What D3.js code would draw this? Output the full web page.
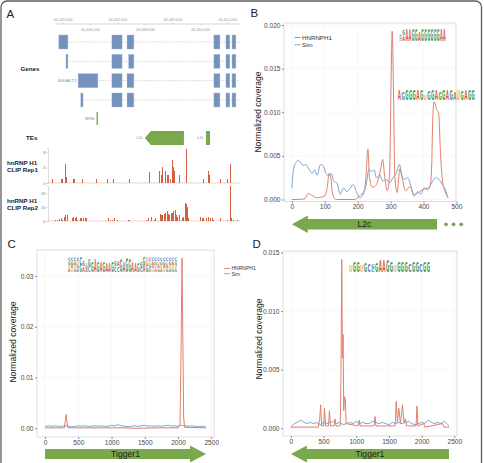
<!DOCTYPE html>
<html lang="en">
<head>
<meta charset="UTF-8">
<title>hnRNP H1 CLIP coverage on transposable elements</title>
<script src="https://d3js.org/d3.v7.min.js"></script>
<style>
  body { margin: 0; background: #fff; }
  svg { display: block; font-family: "Liberation Sans", Arial, sans-serif; }
</style>
</head>
<body>
<svg width="484" height="463"></svg>
<script>
// ---------------- data ----------------
// panel A: genome browser (positions in kb past 44,445,000)
const genomeTicks = [0, 1, 2, 3, 4, 5, 6];
const genomeLabels = ["44,445,000", "44,446,000", "44,447,000", "44,448,000", "44,449,000", "44,450,000", "44,451,000"];
const transcripts = [
  [[-0.15, 0.18], [1.78, 2.15], [2.33, 2.58], [5.49, 5.71], [5.93, 6.07], [6.15, 6.29]],
  [[0.11, 0.18], [1.78, 2.15], [2.39, 2.58], [5.49, 5.71], [5.93, 6.07], [6.15, 6.29]],
  [[0.55, 1.27], [1.78, 2.15], [2.33, 2.58], [5.49, 5.71], [5.93, 6.07], [6.15, 6.29]],
  [[0.65, 0.73], [1.78, 2.15], [2.33, 2.58], [5.49, 5.71], [5.93, 6.07], [6.15, 6.29]]
];
const transcriptEnd = 6.44;
const geneName = "B4GALT2";
const teNames = ["MIRb", "L2c", "L2c"];
const teStart = [1.22, 2.98, 5.20];
const teEnd = [1.27, 4.40, 5.35];
const teRow = [0, 1, 1];
const teStrand = ["+", "-", "-"];

const rep1Pos = [-0.39, -0.08, -0.02, 0.07, 0.11, 0.35, 0.40, 0.68, 1.19, 1.61, 1.83, 2.39, 3.13, 3.50, 3.56, 3.62, 3.70, 3.77, 3.83, 3.89, 3.96, 4.01, 4.04, 4.22, 4.46, 5.08, 5.28, 5.32, 5.71, 5.95, 6.07];
const rep1Val = [1, 1, 1, 4.9, 1.5, 1, 1, 1, 1, 1, 1, 1, 2.8, 3, 2, 4, 3, 2, 2, 1, 6, 4, 3, 2, 8.8, 1, 3, 2, 1, 1, 5];
const rep2Pos = [-0.29, -0.23, -0.13, -0.07, -0.02, 0.04, 0.08, 0.13, 0.16, 0.32, 0.35, 0.44, 0.47, 0.52, 0.62, 0.67, 0.74, 0.80, 0.84, 1.65, 1.71, 1.79, 1.85, 1.95, 2.35, 2.40, 3.02, 3.10, 3.19, 3.31, 3.36, 3.53, 3.58, 3.62, 3.67, 3.72, 3.77, 3.83, 3.87, 3.92, 3.96, 4.01, 4.06, 4.11, 4.16, 4.23, 4.32, 4.38, 4.44, 4.47, 4.52, 4.56, 4.98, 5.04, 5.10, 5.22, 5.28, 5.35, 5.42, 5.47, 5.71, 5.95, 6.07, 6.12, 6.19, 6.34];
const rep2Val = [1, 1, 1.5, 2, 1, 3, 4, 4.5, 2, 2, 3, 2, 3, 1, 2, 2, 2, 2, 2, 2, 1, 1, 2, 1, 1, 1, 1, 2, 3, 1, 2, 5, 4, 4, 5, 6, 7, 5, 4, 6, 6, 7, 8, 4, 3, 4, 2, 3, 13, 12, 10, 2, 3, 2, 2, 2, 3, 2, 2, 1, 2, 1, 25, 2, 1, 1];

// panel B: L2c coverage
const l2cHnrnp = [[0, 0], [20, 0], [40, 0.0001], [50, 0.0007], [60, 0.0005], [75, 0.0002], [100, 0.0004], [108, 0.0015], [113, 0.003], [118, 0.0026], [124, 0.0006], [135, 0], [190, 0], [205, 0.0004], [220, 0.001], [226, 0.003], [231, 0.0058], [236, 0.0025], [245, 0.0014], [255, 0.0016], [262, 0.0022], [270, 0.0035], [276, 0.0046], [282, 0.0027], [290, 0.001], [297, 0.003], [301, 0.012], [305, 0.0193], [309, 0.012], [313, 0.0025], [320, 0.0008], [328, 0.0035], [335, 0.0025], [345, 0.001], [360, 0.0015], [370, 0.0005], [385, 0.0008], [400, 0.0012], [412, 0.0013], [420, 0.0015], [425, 0.004], [428, 0.009], [432, 0.0112], [440, 0.0103], [446, 0.0099], [452, 0.005], [458, 0.002], [465, 0.001], [475, 0.0002]];
const l2cSim = [[0, 0.0013], [5, 0.0034], [12, 0.0042], [20, 0.0045], [27, 0.0042], [34, 0.0039], [42, 0.004], [52, 0.0035], [62, 0.003], [69, 0.0034], [77, 0.0028], [87, 0.004], [94, 0.0039], [104, 0.003], [112, 0.0027], [120, 0.003], [127, 0.0021], [137, 0.0019], [147, 0.0006], [157, 0.0013], [167, 0.0009], [177, 0.0013], [187, 0.0017], [197, 0.0008], [207, 0.0002], [217, 0.0006], [227, 0.0019], [234, 0.0035], [242, 0.0032], [250, 0.0034], [257, 0.0025], [267, 0.0028], [277, 0.0021], [287, 0.0023], [297, 0.0019], [307, 0.0025], [317, 0.003], [327, 0.004], [334, 0.0028], [342, 0.0023], [352, 0.0025], [362, 0.0015], [372, 0.0004], [382, 0.0009], [392, 0.0006], [402, 0.0013], [412, 0.0011], [422, 0.0017], [437, 0.0025], [447, 0.0023], [457, 0.0017], [467, 0.0011], [474, 0.0002]];

// panels C and D: Tigger1 coverage
const tiggerBins = d3.range(0, 2401, 50).concat([2420]);
const tigCHnrnp = [[0, 0.0001], [150, 0.0001], [290, 0.0001], [305, 0.0015], [318, 0.0027], [330, 0.0012], [345, 0.0001], [800, 0.0001], [1250, 0.0001], [1300, 0], [1700, 0.0001], [2000, 0.0001], [2030, 0.0008], [2045, 0.015], [2060, 0.0335], [2072, 0.018], [2085, 0.002], [2100, 0.0002], [2420, 0.0001]];
const tigCSim = [0.0004, 0.0005, 0.0004, 0.0005, 0.0004, 0.0004, 0.0005, 0.0004, 0.0003, 0.0004, 0.0005, 0.0004, 0.0005, 0.0004, 0.0004, 0.0005, 0.0004, 0.0005, 0.0004, 0.0004, 0.0006, 0.0005, 0.0007, 0.0005, 0.0004, 0.0003, 0.0004, 0.0005, 0.0004, 0.0005, 0.0006, 0.0004, 0.0005, 0.0004, 0.0005, 0.0004, 0.0005, 0.0006, 0.0004, 0.0005, 0.0004, 0.0006, 0.0005, 0.0004, 0.0005, 0.0004, 0.0003, 0.0004, 0.0003, 0.0003];
const tigDHnrnp = [[0, 0.0001], [420, 0.0001], [440, 0.0008], [455, 0.002], [470, 0.0002], [500, 0.0002], [515, 0.0017], [530, 0.0002], [575, 0.0002], [590, 0.0015], [605, 0.0002], [660, 0.0002], [677, 0.0008], [690, 0.0002], [755, 0.0002], [765, 0.004], [778, 0.0144], [788, 0.006], [798, 0.008], [808, 0.0015], [818, 0.0027], [833, 0.0025], [845, 0.0004], [1030, 0.0002], [1045, 0.0007], [1060, 0.0002], [1270, 0.0002], [1288, 0.001], [1300, 0.0002], [1595, 0.0002], [1611, 0.0023], [1630, 0.0005], [1651, 0.0017], [1675, 0.0004], [1707, 0.002], [1730, 0.0005], [1752, 0.0008], [1770, 0.0002], [1915, 0.0002], [1929, 0.0019], [1945, 0.0002], [2030, 0.0004], [2050, 0.0001], [2323, 0.0004], [2340, 0.0001], [2420, 0.0001]];
const tigDSim = [0.0001, 0.0004, 0.0005, 0.0007, 0.0005, 0.0004, 0.0005, 0.0004, 0.0005, 0.0003, 0.0005, 0.0004, 0.0005, 0.0006, 0.0004, 0.0005, 0.0003, 0.0004, 0.0005, 0.0004, 0.0006, 0.0004, 0.0005, 0.0004, 0.0004, 0.0006, 0.0005, 0.0004, 0.0005, 0.0004, 0.0003, 0.0005, 0.0004, 0.0005, 0.0004, 0.0005, 0.0006, 0.0004, 0.0003, 0.0004, 0.0005, 0.0004, 0.0007, 0.0005, 0.0004, 0.0005, 0.0004, 0.0006, 0.0003, 0.0002];

// motif logos: one string per column (stacked bottom to top), plus column heights 1-9
const logoB1 = ["CAUG", "AG", "A", "A", "G", "G", "A", "G", "G", "G", "G", "G", "G", "A", "A"];
const logoB1H = "599999799999999";
const logoB2 = ["A", "G", "G", "G", "G", "A", "G", "U", "G", "G", "A", "G", "G", "A", "G", "A", "U", "G", "A", "G", "G"];
const logoB2H = "979999948997999798999";
const logoC = ["AUGC", "UAGC", "GUAC", "AGUC", "GC", "AG", "AGU", "CG", "G", "A", "G", "A", "G", "A", "A", "G", "CG", "CA", "G", "A", "G", "G", "A", "A", "G", "CG", "AG", "GU", "AGUC", "UGAC", "AUGC", "GAUC", "AUGC", "UAGC", "GAUC", "AUGC", "GUAC", "AUGC"];
const logoCH = "99999768787776677787987666999999999999";
const logoD = ["U", "G", "G", "U", "G", "C", "CG", "G", "A", "A", "G", "G", "U", "G", "G", "G", "C", "G", "G", "C", "G", "G"];
const logoDH = "5885766799985888688688";

const seriesNames = ["HNRNPH1", "Sim"];

// ---------------- styles ----------------
const FONT = "'Liberation Sans', Arial, sans-serif";
const RED = "#e27f6c", BLUE = "#7ea5d1", GREEN = "#7aa84c";
const baseColor = { A: "#d8443a", G: "#2e8b44", C: "#3a66ae", U: "#f0a834" };

const svg = d3.select("svg");
svg.append("rect").attr("x", 1).attr("y", 1).attr("width", 480.5).attr("height", 475).attr("rx", 6)
  .attr("fill", "#fff").attr("stroke", "#5f5f5f").attr("stroke-width", 1.3);

function panelLetter(x, y, t) {
  svg.append("text").attr("x", x).attr("y", y).attr("font-size", 11.5).attr("fill", "#222").text(t);
}

// ---------------- panel A ----------------
const A = svg.append("g");
panelLetter(6.5, 18, "A");
const gx = d3.scaleLinear().domain([-0.29, transcriptEnd]).range([55, 240]);

A.append("line").attr("x1", 55).attr("x2", 240).attr("y1", 24).attr("y2", 24).attr("stroke", "#b8b8b8").attr("stroke-width", 0.6);
A.selectAll(".gt").data(genomeTicks).join("line")
  .attr("x1", d => gx(d)).attr("x2", d => gx(d))
  .attr("y1", (d, i) => i % 2 ? 24 : 22.2).attr("y2", (d, i) => i % 2 ? 25.8 : 24)
  .attr("stroke", "#b8b8b8").attr("stroke-width", 0.5);
A.selectAll(".gl").data(genomeTicks).join("text")
  .attr("x", d => gx(d)).attr("y", (d, i) => i % 2 ? 30.5 : 20.5)
  .attr("text-anchor", "middle").attr("font-size", 3.8).attr("fill", "#9a9a9a")
  .text((d, i) => genomeLabels[i]);

const rowY = d3.scaleBand().domain(d3.range(transcripts.length)).range([35, 107]).paddingInner(0.275);
transcripts.forEach((ex, r) => {
  const yc = rowY(r) + rowY.bandwidth() / 2;
  A.append("line").attr("x1", gx(ex[0][0])).attr("x2", gx(transcriptEnd)).attr("y1", yc).attr("y2", yc)
    .attr("stroke", "#a9a9a9").attr("stroke-width", 0.5).attr("stroke-dasharray", "1.6,1.4");
  A.selectAll(null).data(ex).join("rect")
    .attr("x", d => gx(d[0])).attr("width", d => gx(d[1]) - gx(d[0]))
    .attr("y", rowY(r)).attr("height", rowY.bandwidth())
    .attr("fill", "#7392be").attr("stroke", "#aabcd8").attr("stroke-width", 0.4);
});
A.append("text").attr("x", gx(transcripts[2][0][0]) - 1.5).attr("y", rowY(2) + rowY.bandwidth() / 2 + 1.5)
  .attr("text-anchor", "end").attr("font-size", 4.3).attr("fill", "#8a8a8a").text(geneName);
A.append("text").attr("x", 20.5).attr("y", 70.5).attr("font-size", 6.2).attr("font-weight", "bold").attr("fill", "#222").text("Genes");

// TE track
const teTop = [112, 131], teH = [13, 14];
teNames.forEach((n, i) => {
  const x0 = gx(teStart[i]), x1 = gx(teEnd[i]);
  const t = teTop[teRow[i]], b = t + teH[teRow[i]], m = (t + b) / 2;
  const head = Math.min(6, (x1 - x0) * 0.3);
  const pts = teStrand[i] === "-" && x1 - x0 > 10
    ? [[x0 + head, t], [x1, t], [x1, b], [x0 + head, b], [x0, m]]
    : [[x0, t], [x1, t], [x1, b], [x0, b]];
  A.append("polygon").attr("points", pts.map(p => p.join(",")).join(" ")).attr("fill", GREEN);
  A.append("text").attr("x", x0 - 2).attr("y", m + 1.4).attr("text-anchor", "end")
    .attr("font-size", 4).attr("fill", "#8a8a8a").text(n);
});
A.append("text").attr("x", 26).attr("y", 139.5).attr("font-size", 6.2).attr("font-weight", "bold").attr("fill", "#222").text("TEs");

// CLIP tracks
function clipTrack(pos, val, yDom, yRange, ticks, label1Y) {
  const y = d3.scaleLinear().domain(yDom).range(yRange);
  A.append("line").attr("x1", 48).attr("x2", 240).attr("y1", y(0)).attr("y2", y(0))
    .attr("stroke", "#e3a592").attr("stroke-width", 0.5);
  A.append("g").attr("shape-rendering", "crispEdges").selectAll("rect").data(pos).join("rect")
    .attr("x", d => Math.round(gx(d))).attr("width", 1)
    .attr("y", (d, i) => y(val[i])).attr("height", (d, i) => y(0) - y(val[i]))
    .attr("fill", "#d0603f");
  const ax = A.append("g").attr("transform", "translate(48,0)")
    .call(d3.axisLeft(y).tickValues(ticks).tickSize(1.5).tickPadding(1));
  ax.attr("font-size", 4).attr("font-family", FONT);
  ax.selectAll("line, path").attr("stroke", "#aaa").attr("stroke-width", 0.4);
  ax.selectAll("text").attr("fill", "#777");
  A.append("text").attr("x", 7).attr("y", label1Y).attr("font-size", 6.2).attr("font-weight", "bold").attr("fill", "#222").text("hnRNP H1");
}
clipTrack(rep1Pos, rep1Val, [0, 9], [183, 148.1], [0, 4, 8], 164.5);
A.append("text").attr("x", 7).attr("y", 171.5).attr("font-size", 6.2).attr("font-weight", "bold").attr("fill", "#222").text("CLIP Rep1");
clipTrack(rep2Pos, rep2Val, [0, 25.5], [221, 185.5], [0, 10, 20], 202.5);
A.append("text").attr("x", 7).attr("y", 209.5).attr("font-size", 6.2).attr("font-weight", "bold").attr("fill", "#222").text("CLIP Rep2");

// ---------------- coverage panels ----------------
function drawLogo(g, cols, heights, x, y, xFrom, xTo, base, hVal) {
  const bx = d3.scaleBand().domain(d3.range(cols.length)).range([x(xFrom), x(xTo)]).paddingInner(0.12);
  const hs = d3.scaleLinear().domain([0, 9]).range([0, y(base) - y(base + hVal)]);
  const fs = 10, cap = 7.3;
  const lg = g.append("g").attr("opacity", 0.85);
  cols.forEach((col, i) => {
    const colH = hs(+heights[i]);
    const each = colH / col.length;
    col.split("").forEach((ch, k) => {
      const yb = y(base) - k * each;
      lg.append("text")
        .attr("transform", `translate(${bx(i)},${yb}) scale(1,${each / cap})`)
        .attr("font-size", fs).attr("font-weight", "bold").attr("font-family", "'DejaVu Sans', sans-serif")
        .attr("textLength", bx.bandwidth()).attr("lengthAdjust", "spacingAndGlyphs")
        .attr("fill", baseColor[ch]).text(ch);
    });
  });
}

function coveragePanel(p) {
  const g = svg.append("g");
  const x = d3.scaleLinear().domain(p.xDomain).range([p.left, p.right]);
  const y = d3.scaleLinear().domain(p.yDomain).range([p.bottom, p.top]);
  g.append("rect").attr("x", p.left).attr("y", p.top).attr("width", p.right - p.left).attr("height", p.bottom - p.top)
    .attr("fill", "#fff").attr("stroke", "#d4d4d4").attr("stroke-width", 0.8);
  g.selectAll(".gv").data(p.xTicks).join("line")
    .attr("x1", d => x(d)).attr("x2", d => x(d)).attr("y1", p.top).attr("y2", p.bottom)
    .attr("stroke", "#f3f3f3").attr("stroke-width", 0.6);
  g.selectAll(".gh").data(p.yTicks).join("line")
    .attr("y1", d => y(d)).attr("y2", d => y(d)).attr("x1", p.left).attr("x2", p.right)
    .attr("stroke", "#f3f3f3").attr("stroke-width", 0.6);

  const ya = g.append("g").attr("transform", `translate(${p.left},0)`)
    .call(d3.axisLeft(y).tickValues(p.yTicks).tickFormat(d3.format(p.yFormat)).tickSize(2).tickPadding(1.5));
  const xa = g.append("g").attr("transform", `translate(0,${p.bottom})`)
    .call(d3.axisBottom(x).tickValues(p.xTicks).tickFormat(d3.format("d")).tickSize(2).tickPadding(1));
  [ya, xa].forEach(a => {
    a.select(".domain").remove();
    a.attr("font-size", 6.6).attr("font-family", FONT);
    a.selectAll("line").attr("stroke", "#444").attr("stroke-width", 0.6);
    a.selectAll("text").attr("fill", "#4a4a4a");
  });

  const line = d3.line().x(d => x(d[0])).y(d => y(d[1])).curve(p.curve);
  g.append("path").datum(p.hnrnp).attr("d", line).attr("fill", "none").attr("stroke", RED).attr("stroke-width", 1);
  g.append("path").datum(p.sim).attr("d", line).attr("fill", "none").attr("stroke", BLUE).attr("stroke-width", 1);

  g.append("text").attr("transform", `translate(${p.titleX},${p.titleY}) rotate(-90)`)
    .attr("text-anchor", "middle").attr("font-size", 8.6).attr("fill", "#222").text("Normalized coverage");

  // TE arrow under the axis
  const a0 = x(p.te[0]), a1 = x(p.te[1]);
  const t = p.arrowY[0], b = p.arrowY[1], m = (t + b) / 2, hw = 3.5, hl = 16;
  const pts = p.teDir === "right"
    ? [[a0, t], [a1 - hl, t], [a1 - hl, t - hw], [a1, m], [a1 - hl, b + hw], [a1 - hl, b], [a0, b]]
    : [[a1, t], [a0 + hl, t], [a0 + hl, t - hw], [a0, m], [a0 + hl, b + hw], [a0 + hl, b], [a1, b]];
  g.append("polygon").attr("points", pts.map(q => q.join(",")).join(" ")).attr("fill", GREEN);
  g.append("text").attr("x", (a0 + a1) / 2).attr("y", m + 3.1).attr("text-anchor", "middle")
    .attr("font-size", 8.6).attr("fill", "#1d1d1d").text(p.teName);
  return { g, x, y };
}

// B
panelLetter(250.5, 17, "B");
const B = coveragePanel({
  left: 284, right: 456, top: 23, bottom: 201.5,
  xDomain: [-23.75, 498.75], yDomain: [-0.00023, 0.02023],
  xTicks: [0, 100, 200, 300, 400, 500], yTicks: [0, 0.005, 0.01, 0.015, 0.02], yFormat: ".3f",
  hnrnp: l2cHnrnp, sim: l2cSim, curve: d3.curveMonotoneX,
  titleX: 260.5, titleY: 112,
  te: [0, 441], teDir: "left", teName: "L2c", arrowY: [219, 229.5]
});
svg.selectAll(".dot").data([0, 1, 2]).join("circle")
  .attr("cx", d => 446 + d * 7.6).attr("cy", 224.3).attr("r", 1.9).attr("fill", GREEN);
const legB = svg.append("g");
seriesNames.forEach((n, i) => {
  const yy = 37.5 + i * 7.3;
  legB.append("line").attr("x1", 294.5).attr("x2", 300.5).attr("y1", yy).attr("y2", yy)
    .attr("stroke", i ? BLUE : RED).attr("stroke-width", 1);
  legB.append("text").attr("x", 302).attr("y", yy + 2.2).attr("font-size", 6.2).attr("fill", "#333").text(n);
});
drawLogo(B.g, logoB1, logoB1H, B.x, B.y, 326, 468, 0.0182, 0.0013);
drawLogo(B.g, logoB2, logoB2H, B.x, B.y, 322, 556, 0.01145, 0.00115);

// C
panelLetter(7.5, 248, "C");
const C = coveragePanel({
  left: 37, right: 214, top: 250, bottom: 437,
  xDomain: [-121, 2541], yDomain: [-0.00171, 0.0351],
  xTicks: [0, 500, 1000, 1500, 2000, 2500], yTicks: [0, 0.01, 0.02, 0.03], yFormat: ".2f",
  hnrnp: tigCHnrnp, sim: tiggerBins.map((b, i) => [b, tigCSim[i]]), curve: d3.curveLinear,
  titleX: 16, titleY: 342,
  te: [0, 2421], teDir: "right", teName: "Tigger1", arrowY: [449, 459]
});
drawLogo(C.g, logoC, logoCH, C.x, C.y, 345, 1984, 0.0308, 0.00276);
const legC = svg.append("g");
seriesNames.forEach((n, i) => {
  const yy = 268.5 + i * 5.2;
  legC.append("line").attr("x1", 224).attr("x2", 230).attr("y1", yy).attr("y2", yy)
    .attr("stroke", i ? BLUE : RED).attr("stroke-width", 0.9);
  legC.append("text").attr("x", 231.5).attr("y", yy + 1.8).attr("font-size", 5).attr("fill", "#333").text(n);
});

// D
panelLetter(252.5, 247.5, "D");
const D = coveragePanel({
  left: 283, right: 457, top: 251, bottom: 436,
  xDomain: [-121, 2541], yDomain: [-0.00066, 0.01513],
  xTicks: [0, 500, 1000, 1500, 2000, 2500], yTicks: [0, 0.005, 0.01, 0.015], yFormat: ".3f",
  hnrnp: tigDHnrnp, sim: tiggerBins.map((b, i) => [b, tigDSim[i]]), curve: d3.curveLinear,
  titleX: 261.5, titleY: 339,
  te: [0, 2418], teDir: "left", teName: "Tigger1", arrowY: [449, 459]
});
drawLogo(D.g, logoD, logoDH, D.x, D.y, 889, 2128, 0.01334, 0.00094);
</script>
</body>
</html>
